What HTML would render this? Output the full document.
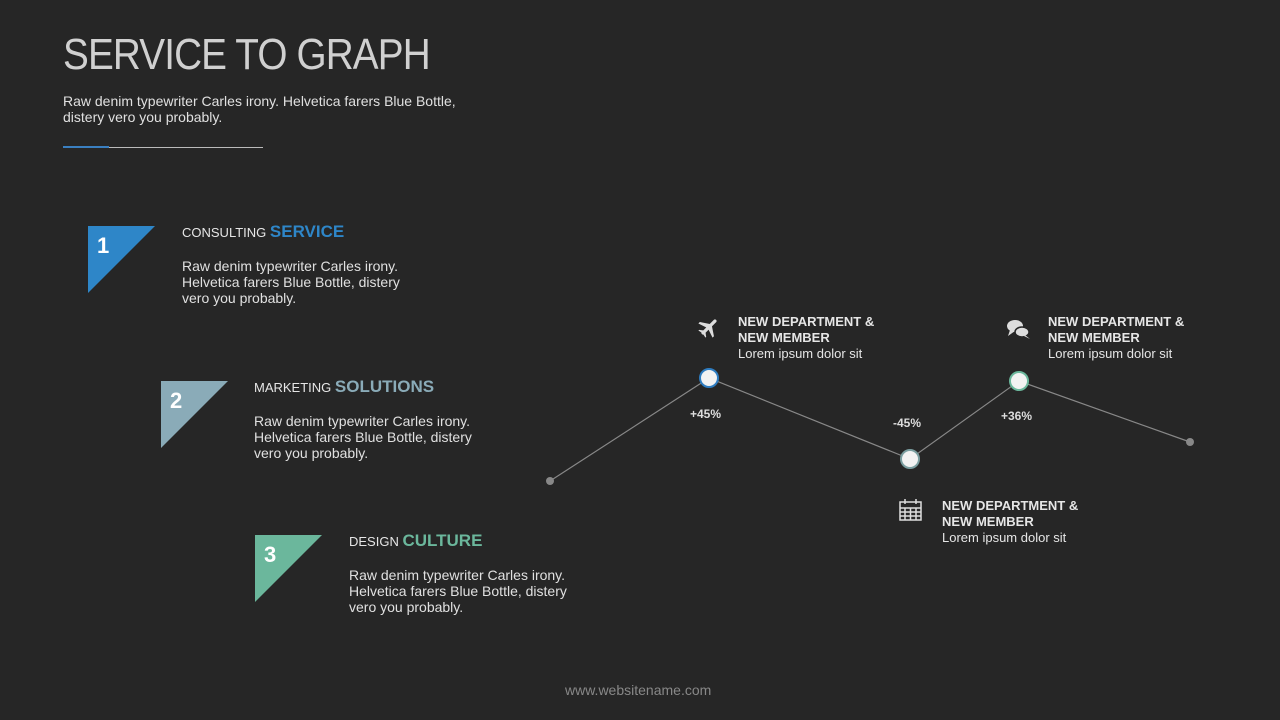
<!DOCTYPE html>
<html><head><meta charset="utf-8"><style>
*{margin:0;padding:0}
body{width:1280px;height:720px;background:#262626;position:relative;overflow:hidden;font-family:"Liberation Sans","DejaVu Sans",sans-serif;color:#e6e6e6}
.a{position:absolute;white-space:nowrap}
.p{font-size:14px;line-height:16px;color:#e0e0e0}
.h{font-size:13px;color:#e6e6e6}
.h b{font-size:17px;font-weight:bold}
.n{font-size:13px;line-height:16px;font-weight:bold;color:#e6e6e6}
.n span{font-weight:normal}
.pct{font-size:12px;font-weight:bold;color:#ddd}
</style></head><body>
<div class="a" style="left:63px;top:30px;font-size:44px;color:#d0d0d0;letter-spacing:-1px;font-weight:normal;transform:scaleX(0.88);transform-origin:left">SERVICE TO GRAPH</div>
<div class="a p" style="left:63px;top:93px">Raw denim typewriter Carles irony. Helvetica farers Blue Bottle,<br>distery vero you probably.</div>
<div class="a" style="left:63px;top:147px;width:200px;height:1px;background:#bbb"></div>
<div class="a" style="left:63px;top:146px;width:46px;height:2px;background:#3a7fc0"></div>

<svg class="a" style="left:0;top:0" width="1280" height="720">
<polygon points="88,226 155,226 88,293" fill="#2e86c8"/>
<polygon points="161,381 228,381 161,448" fill="#8aabb8"/>
<polygon points="255,535 322,535 255,602" fill="#6bb79c"/>
<text x="97" y="253" font-family="Liberation Sans" font-size="22" font-weight="bold" fill="#fff">1</text>
<text x="170" y="408" font-family="Liberation Sans" font-size="22" font-weight="bold" fill="#fff">2</text>
<text x="264" y="562" font-family="Liberation Sans" font-size="22" font-weight="bold" fill="#fff">3</text>
<polyline points="550,481 709,378 910,459 1019,381 1190,442" fill="none" stroke="#888" stroke-width="1.2"/>
<circle cx="550" cy="481" r="4" fill="#888"/>
<circle cx="1190" cy="442" r="4" fill="#888"/>
<circle cx="709" cy="378" r="9" fill="#f2f2f2" stroke="#2e7cc0" stroke-width="2"/>
<circle cx="910" cy="459" r="9" fill="#f2f2f2" stroke="#7a9ea0" stroke-width="2"/>
<circle cx="1019" cy="381" r="9" fill="#f2f2f2" stroke="#6bb79c" stroke-width="2"/>
<g fill="#ddd" transform="translate(709,327) rotate(45)">
<rect x="-1.6" y="-10" width="3.2" height="20" rx="1.6"/>
<polygon points="-1,-3 -10,3 -10,5 -1,2 1,2 10,5 10,3 1,-3"/>
<polygon points="-1,6 -5,9 -5,10 0,9 5,10 5,9 1,6"/>
</g>
<g fill="#ddd">
<ellipse cx="1015" cy="326" rx="8" ry="6"/>
<polygon points="1010,330 1008,336 1015,331"/>
<ellipse cx="1022" cy="332" rx="7" ry="5" stroke="#262626" stroke-width="1.5"/>
<polygon points="1025,335 1030,339 1024,336"/>
</g>
<g fill="none" stroke="#ddd" stroke-width="1.5">
<rect x="900" y="502" width="21" height="18"/>
<line x1="900" y1="508" x2="921" y2="508"/><line x1="900" y1="512" x2="921" y2="512"/><line x1="900" y1="516" x2="921" y2="516"/>
<line x1="905" y1="508" x2="905" y2="520"/><line x1="910.5" y1="508" x2="910.5" y2="520"/><line x1="916" y1="508" x2="916" y2="520"/>
<line x1="905" y1="499" x2="905" y2="504"/><line x1="916" y1="499" x2="916" y2="504"/>
</g>
</svg>

<div class="a h" style="left:182px;top:222px">CONSULTING <b style="color:#2e86c8">SERVICE</b></div>
<div class="a p" style="left:182px;top:258px">Raw denim typewriter Carles irony.<br>Helvetica farers Blue Bottle, distery<br>vero you probably.</div>
<div class="a h" style="left:254px;top:377px">MARKETING <b style="color:#8aabb8">SOLUTIONS</b></div>
<div class="a p" style="left:254px;top:413px">Raw denim typewriter Carles irony.<br>Helvetica farers Blue Bottle, distery<br>vero you probably.</div>
<div class="a h" style="left:349px;top:531px">DESIGN <b style="color:#6bb79c">CULTURE</b></div>
<div class="a p" style="left:349px;top:567px">Raw denim typewriter Carles irony.<br>Helvetica farers Blue Bottle, distery<br>vero you probably.</div>

<div class="a n" style="left:738px;top:314px">NEW DEPARTMENT &amp;<br>NEW MEMBER<br><span>Lorem ipsum dolor sit</span></div>
<div class="a n" style="left:1048px;top:314px">NEW DEPARTMENT &amp;<br>NEW MEMBER<br><span>Lorem ipsum dolor sit</span></div>
<div class="a n" style="left:942px;top:498px">NEW DEPARTMENT &amp;<br>NEW MEMBER<br><span>Lorem ipsum dolor sit</span></div>
<div class="a pct" style="left:690px;top:407px">+45%</div>
<div class="a pct" style="left:893px;top:416px">-45%</div>
<div class="a pct" style="left:1001px;top:409px">+36%</div>
<div class="a" style="left:565px;top:682px;font-size:14px;color:#888">www.websitename.com</div>
</body></html>
